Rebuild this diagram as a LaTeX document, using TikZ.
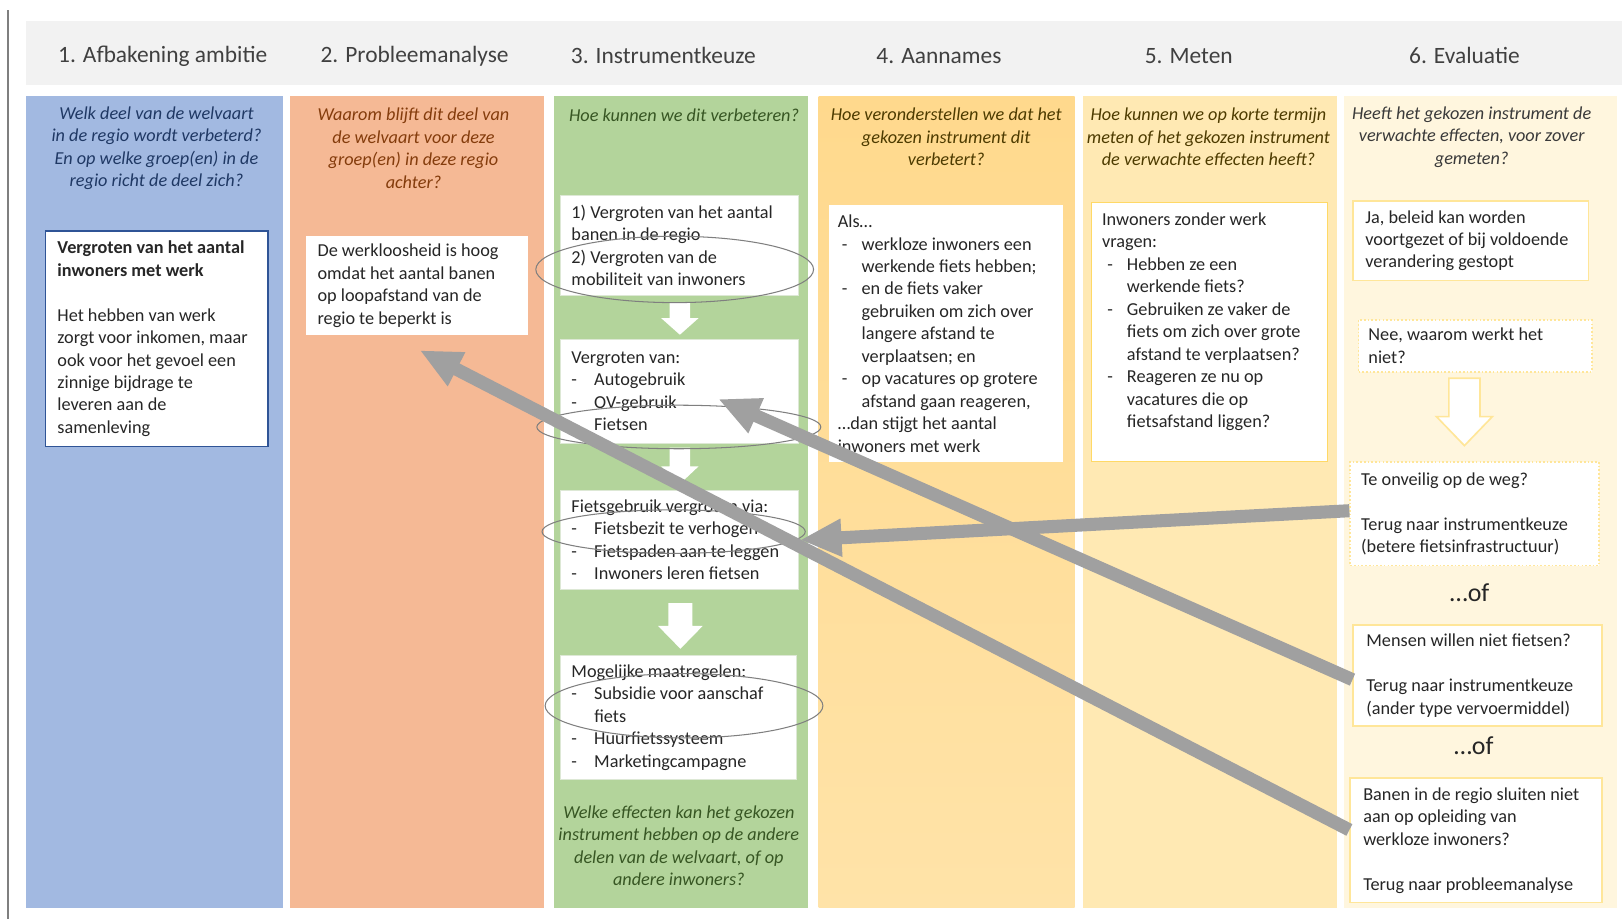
\documentclass[tikz,border=0pt]{standalone}
\usepackage{fontspec}
\setmainfont{Carlito}
\usetikzlibrary{shapes.geometric,arrows.meta}
\definecolor{bandc}{HTML}{F2F2F2}
\definecolor{c1fill}{HTML}{A2B9E1}
\definecolor{c2fill}{HTML}{F5B995}
\definecolor{c3fill}{HTML}{B3D49B}
\definecolor{c4top}{HTML}{FFD98D}
\definecolor{c4bot}{HTML}{FFE3A8}
\definecolor{c5fill}{HTML}{FFE9B3}
\definecolor{c6fill}{HTML}{FFF6DE}
\definecolor{q1c}{HTML}{1F3864}
\definecolor{q2c}{HTML}{843C0C}
\definecolor{q3c}{HTML}{375623}
\definecolor{q4c}{HTML}{4D3B00}
\definecolor{q6c}{HTML}{3A3A3A}
\definecolor{txtc}{HTML}{262626}
\definecolor{hdrc}{HTML}{404040}
\definecolor{ringc}{HTML}{7F7F7F}
\definecolor{backc}{HTML}{A0A0A0}
\definecolor{b1c}{HTML}{2F5496}
\definecolor{b3c}{HTML}{DDE8D5}
\definecolor{b5c}{HTML}{FFD966}
\definecolor{b6c}{HTML}{FFE699}
\definecolor{leftc}{HTML}{7F7F7F}
\newcommand\bfont{\fontsize{8.8}{10.85}\selectfont}
\newcommand\hfont{\fontsize{11.3}{13.5}\selectfont}
\newcommand\offont{\fontsize{12.5}{14}\selectfont}
\newcommand\lidash[2]{\hspace*{#1}\makebox[#2][l]{-}}
\newcommand\liind[1]{\hspace*{#1}}
\tikzset{
  hdr/.style={font=\hfont, text=hdrc, inner sep=0pt},
  qtext/.style={align=center, font=\bfont\itshape, inner sep=0pt},
  wbox/.style={fill=white, inner sep=0pt, anchor=north west, line width=0.5pt},
  btxt/.style={anchor=west, align=left, inner sep=0pt, font=\bfont, text=txtc},
  ring/.style={ellipse, draw=ringc, line width=0.5pt, inner sep=0pt},
  back/.style={draw=backc, line width=6.3pt, -{Triangle[length=20pt,width=17pt]}},
  blockw/.style={fill=white},
  blocko/.style={fill=white, draw=b6c, line width=0.8pt},
}
\begin{document}
\begin{tikzpicture}[x=0.5pt,y=-0.5pt]
\useasboundingbox (0,0) rectangle (1567,886);
\fill[white] (0,0) rectangle (1567,886);
% left rule
\draw[leftc, line width=1pt] (8,10) -- (8,890);
% header band
\fill[bandc] (25,20) rectangle (1565,82);
\node[hdr] (h1) at (157,54) {1. Afbakening ambitie};
\node[hdr] (h2) at (400,54) {2. Probleemanalyse};
\node[hdr] (h3) at (640,54) {3. Instrumentkeuze};
\node[hdr] (h4) at (906,54) {4. Aannames};
\node[hdr] (h5) at (1147,54) {5. Meten};
\node[hdr] (h6) at (1413,54) {6. Evaluatie};
% columns
\fill[c1fill] (25,93) rectangle (273,876);
\fill[c2fill] (280,93) rectangle (525,876);
\fill[c3fill] (535,93) rectangle (780,876);
\shade[top color=c4top, bottom color=c4bot] (790,93) rectangle (1037,876);
\fill[c5fill] (1045,93) rectangle (1290,876);
\fill[c6fill] (1297,93) rectangle (1560,876);
% questions
\node[qtext, text=q1c] (q1) at (151,143) {Welk deel van de welvaart\\in de regio wordt verbeterd?\\En op welke groep(en) in de\\regio richt de deel zich?};
\node[qtext, text=q2c] (q2) at (399,143) {Waarom blijft dit deel van\\de welvaart voor deze\\groep(en) in deze regio\\achter?};
\node[qtext, text=q3c] (q3) at (660,111) {Hoe kunnen we dit verbeteren?};
\node[qtext, text=q4c] (q4) at (913,132) {Hoe veronderstellen we dat het\\gekozen instrument dit\\verbetert?};
\node[qtext, text=q4c] (q5) at (1166,132) {Hoe kunnen we op korte termijn\\meten of het gekozen instrument\\de verwachte effecten heeft?};
\node[qtext, text=q6c] (q6) at (1420,132) {Heeft het gekozen instrument de\\verwachte effecten, voor zover\\gemeten?};
\node[qtext, text=q3c] (q3b) at (655,816) {Welke effecten kan het gekozen\\instrument hebben op de andere\\delen van de welvaart, of op\\andere inwoners?};
% column 1
\node[wbox, draw=b1c, line width=0.8pt, minimum width=107.5pt, minimum height=104pt] (c1box) at (43,222) {};
\node[btxt] (c1txt) at ([xshift=6pt]c1box.west) {\textbf{Vergroten van het aantal}\\\textbf{inwoners met werk}\\\mbox{}\\Het hebben van werk\\zorgt voor inkomen, maar\\ook voor het gevoel een\\zinnige bijdrage te\\leveren aan de\\samenleving};
% column 2
\node[wbox, draw=white, minimum width=106.5pt, minimum height=47pt] (c2box) at (295,228) {};
\node[btxt] (c2txt) at ([xshift=5.5pt]c2box.west) {De werkloosheid is hoog\\omdat het aantal banen\\op loopafstand van de\\regio te beperkt is};
% column 3
\node[wbox, draw=b3c, minimum width=115pt, minimum height=48.5pt] (c3a) at (540,188) {};
\node[btxt] (c3atxt) at ([xshift=5.5pt]c3a.west) {1) Vergroten van het aantal\\banen in de regio\\2) Vergroten van de\\mobiliteit van inwoners};
\node[wbox, draw=b3c, minimum width=115pt, minimum height=50pt] (c3b) at (540,327) {};
\node[btxt] (c3btxt) at ([xshift=5.5pt]c3b.west) {Vergroten van:\\\lidash{0pt}{11pt}Autogebruik\\\lidash{0pt}{11pt}OV-gebruik\\\lidash{0pt}{11pt}Fietsen};
\node[wbox, draw=b3c, minimum width=115pt, minimum height=47.5pt] (c3c) at (540,473) {};
\node[btxt] (c3ctxt) at ([xshift=5.5pt]c3c.west) {Fietsgebruik vergroten via:\\\lidash{0pt}{11pt}Fietsbezit te verhogen\\\lidash{0pt}{11pt}Fietspaden aan te leggen\\\lidash{0pt}{11pt}Inwoners leren fietsen};
\node[wbox, draw=b3c, minimum width=114pt, minimum height=60pt] (c3d) at (540,632) {};
\node[btxt] (c3dtxt) at ([xshift=5.5pt]c3d.west) {Mogelijke maatregelen:\\\lidash{0pt}{11pt}Subsidie voor aanschaf\\\liind{11pt}fiets\\\lidash{0pt}{11pt}Huurfietssysteem\\\lidash{0pt}{11pt}Marketingcampagne};
% white block arrows col 3
\fill[blockw] (646,292) -- (666,292) -- (666,307) -- (674,307) -- (656,323) -- (638,307) -- (646,307) -- cycle;
\fill[blockw] (646,432) -- (666,432) -- (666,450) -- (674,450) -- (656,467) -- (638,450) -- (646,450) -- cycle;
\fill[blockw] (645,582) -- (668,582) -- (668,604) -- (678,604) -- (656.5,626) -- (635,604) -- (645,604) -- cycle;
% ellipses col 3
\node[ring, minimum width=134pt, minimum height=32pt] (e1) at (651,260) {};
\node[ring, minimum width=137pt, minimum height=21pt] (e2) at (655,412) {};
\node[ring, minimum width=127pt, minimum height=21pt] (e3) at (650,513) {};
\node[ring, minimum width=134pt, minimum height=31pt] (e4) at (660,681) {};
% column 4
\node[wbox, draw=white, minimum width=112.5pt, minimum height=123.5pt] (c4box) at (800,198) {};
\node[btxt] (c4txt) at ([xshift=4pt]c4box.west) {Als\dots\\\lidash{2pt}{9.5pt}werkloze inwoners een\\\liind{11.5pt}werkende fiets hebben;\\\lidash{2pt}{9.5pt}en de fiets vaker\\\liind{11.5pt}gebruiken om zich over\\\liind{11.5pt}langere afstand te\\\liind{11.5pt}verplaatsen; en\\\lidash{2pt}{9.5pt}op vacatures op grotere\\\liind{11.5pt}afstand gaan reageren,\\\dots dan stijgt het aantal\\inwoners met werk};
% column 5
\node[wbox, draw=b5c, minimum width=113.5pt, minimum height=125pt] (c5box) at (1053,195) {};
\node[btxt] (c5txt) at ([xshift=5pt,yshift=5pt]c5box.west) {Inwoners zonder werk\\vragen:\\\lidash{2.5pt}{9.5pt}Hebben ze een\\\liind{12pt}werkende fiets?\\\lidash{2.5pt}{9.5pt}Gebruiken ze vaker de\\\liind{12pt}fiets om zich over grote\\\liind{12pt}afstand te verplaatsen?\\\lidash{2.5pt}{9.5pt}Reageren ze nu op\\\liind{12pt}vacatures die op\\\liind{12pt}fietsafstand liggen?};
% column 6
\node[wbox, draw=b6c, line width=0.8pt, minimum width=113.5pt, minimum height=38.5pt] (c6a) at (1305,193) {};
\node[btxt] (c6atxt) at ([xshift=6pt]c6a.west) {Ja, beleid kan worden\\voortgezet of bij voldoende\\verandering gestopt};
\node[wbox, draw=b6c, line width=0.8pt, densely dotted, minimum width=112.5pt, minimum height=25pt] (c6b) at (1310,308) {};
\node[btxt] (c6btxt) at ([xshift=5pt]c6b.west) {Nee, waarom werkt het\\niet?};
\fill[blocko] (1398,365) -- (1428,365) -- (1428,402) -- (1440,402) -- (1413,430) -- (1386,402) -- (1398,402) -- cycle;
\node[wbox, draw=b6c, line width=0.8pt, densely dotted, minimum width=120pt, minimum height=50pt] (c6c) at (1302,445) {};
\node[btxt] (c6ctxt) at ([xshift=5.5pt]c6c.west) {Te onveilig op de weg?\\\mbox{}\\Terug naar instrumentkeuze\\(betere fietsinfrastructuur)};
\node[font=\offont, text=txtc, inner sep=0pt] (of1) at (1418,572) {\dots of};
\node[wbox, draw=b6c, line width=0.8pt, minimum width=120pt, minimum height=49pt] (c6d) at (1305,602) {};
\node[btxt] (c6dtxt) at ([xshift=6.5pt]c6d.west) {Mensen willen niet fietsen?\\\mbox{}\\Terug naar instrumentkeuze\\(ander type vervoermiddel)};
\node[font=\offont, text=txtc, inner sep=0pt] (of2) at (1422,720) {\dots of};
\node[wbox, draw=b6c, line width=0.8pt, minimum width=121.5pt, minimum height=60pt] (c6e) at (1302,750) {};
\node[btxt] (c6etxt) at ([xshift=6.5pt]c6e.west) {Banen in de regio sluiten niet\\aan op opleiding van\\werkloze inwoners?\\\mbox{}\\Terug naar probleemanalyse};
% back arrows
\coordinate (tA) at (405,338);
\coordinate (tB) at (693,385);
\coordinate (tC) at (772,521);
\draw[back] ([yshift=5pt]c6e.west) -- (tA);
\draw[back] ([yshift=-2pt]c6d.west) -- (tB);
\draw[back] ([yshift=1.5pt]c6c.west) -- (tC);
\end{tikzpicture}
\end{document}
